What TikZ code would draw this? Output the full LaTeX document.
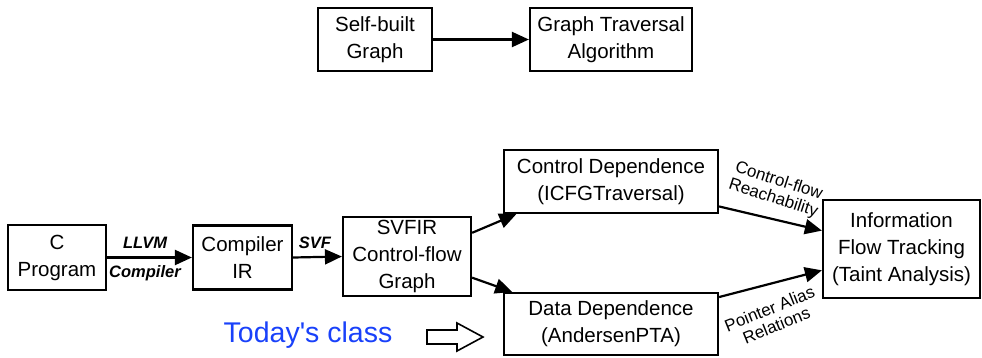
\documentclass[tikz,border=0pt]{standalone}
\usepackage{fontspec}
\setmainfont{Liberation Sans}
\usetikzlibrary{arrows.meta,calc}
\definecolor{todayblue}{RGB}{25,65,250}
\begin{document}
\begin{tikzpicture}[x=1pt,y=-1pt,
  box/.style={draw,line width=2.2pt,inner sep=0pt,align=center,font=\fontsize{20.5}{27}\selectfont},
  conn/.style={line width=2.2pt,-{Triangle[length=17pt,width=15pt]}},
  elab/.style={font=\fontsize{16.5}{20}\selectfont\bfseries\itshape},
  rlab/.style={font=\fontsize{17}{18}\selectfont,align=center,inner sep=0pt}]
\useasboundingbox (0,0) rectangle (982,357);
% top row
\node[box,minimum width=114pt,minimum height=63pt] (sb) at (375,39.5) {Self-built\\Graph};
\node[box,minimum width=162pt,minimum height=63pt] (gt) at (611,39.5) {Graph Traversal\\Algorithm};
\draw[conn] (sb.east) -- (gt.west);
% pipeline
\node[box,minimum width=98pt,minimum height=65pt] (cp) at (57,257.5) {C\\Program};
\node[box,minimum width=99pt,minimum height=64pt] (ir) at (242.5,257.5) {Compiler\\IR};
\node[box,minimum width=128pt,minimum height=79pt] (svfir) at (407,256.5) {SVFIR\\Control-flow\\Graph};
\node[box,minimum width=214pt,minimum height=63pt] (cd) at (611,181.5) {Control Dependence\\(ICFGTraversal)};
\node[box,minimum width=214pt,minimum height=62pt] (dd) at (611,324) {Data Dependence\\(AndersenPTA)};
\node[box,minimum width=157pt,minimum height=98pt] (ift) at (901.5,249) {Information\\Flow Tracking\\(Taint Analysis)};
\draw[conn] (cp.east) -- (ir.west);
\draw[conn] (ir.east) -- (svfir.west);
\draw[conn] (svfir.20) -- (cd.199);
\draw[conn] (svfir.-18) -- (dd.162);
\draw[conn] (cd.-13) -- (ift.167);
\draw[conn] (dd.14) -- (ift.195);
% edge labels
\node[elab] (llvm) at (145,243) {LLVM};
\node[elab] (comp) at (145,273) {Compiler};
\node[elab] (svf) at (315,243) {SVF};
\node[rlab,rotate=-18] (cfr) at (776,190) {Control-flow\\Reachability};
\node[rlab,rotate=22] (par) at (773,317) {Pointer Alias\\Relations};
% today's class
\node[text=todayblue,font=\fontsize{28.5}{30}\selectfont] (today) at (308,335) {Today\textquotesingle s class};
\draw[line width=1.6pt,line join=miter] (427,330) -- (457,330) -- (457,323) -- (483,337) -- (457,351) -- (457,344) -- (427,344) -- cycle;
\end{tikzpicture}
\end{document}
